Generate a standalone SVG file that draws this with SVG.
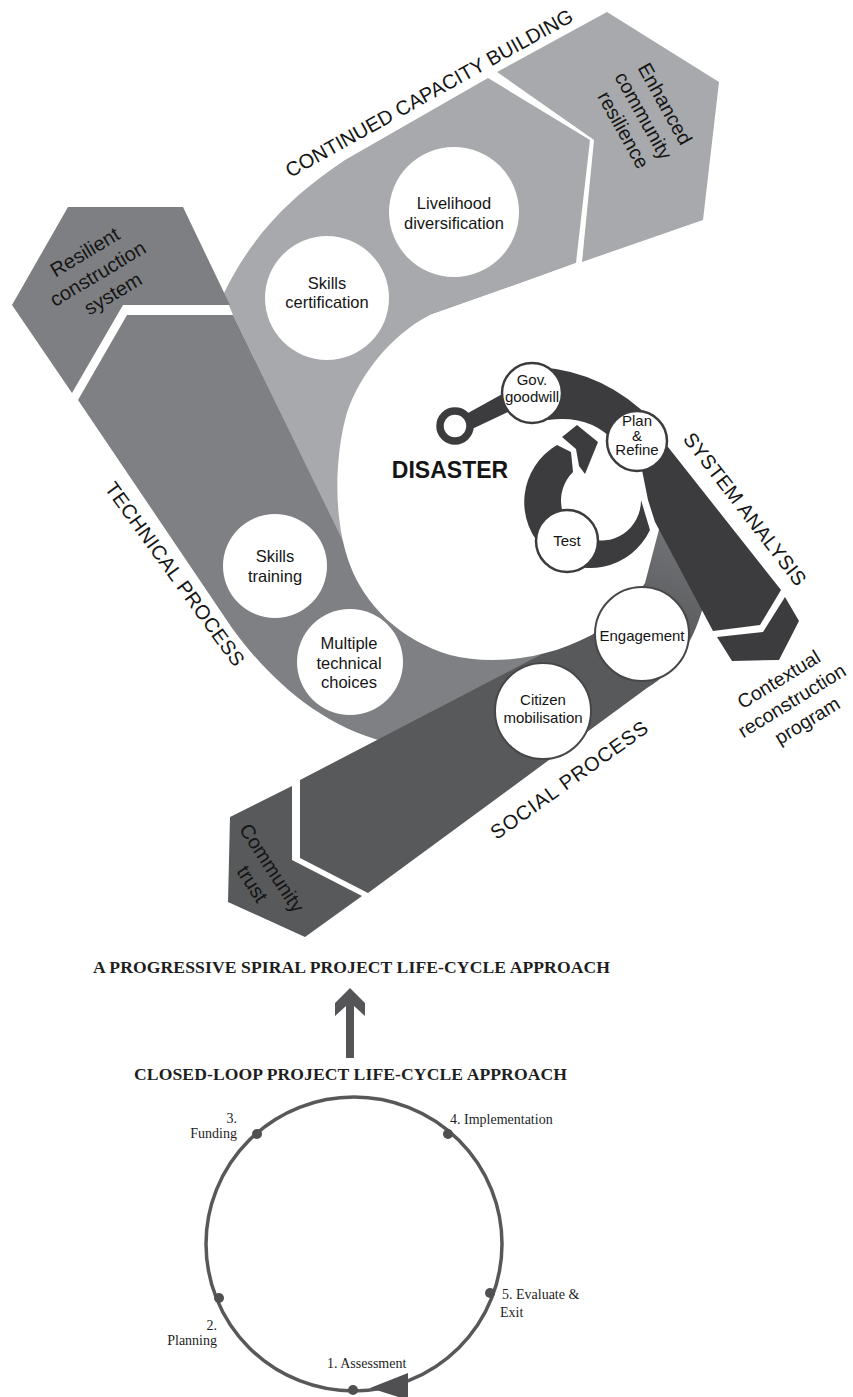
<svg xmlns="http://www.w3.org/2000/svg" width="853" height="1397" viewBox="0 0 853 1397">
  <defs>
    <style>
      .sans{font-family:"Liberation Sans",Arial,sans-serif;fill:#151515;}
      .serif{font-family:"Liberation Serif","Times New Roman",serif;fill:#1e1e1e;}
      .band{font-size:20px;}
      .lab{font-size:20px;text-anchor:middle;}
      .big{font-size:16.5px;text-anchor:middle;}
      .small{font-size:15px;text-anchor:middle;}
      .stage{font-size:14px;}
      .light{fill:#a7a9ac;}
      .mid{fill:#7f8083;}
      .dark{fill:#58595b;}
      .deep{fill:#3c3c3e;}
      .disc{fill:#fff;}
      .disc-ring{fill:#fff;stroke:#3c3c3e;stroke-width:2.5;}
      .disc-soft{fill:#fff;stroke:#474749;stroke-width:2;}
      .dot{fill:#505052;}
    </style>
    <linearGradient id="socialFade" gradientUnits="userSpaceOnUse" x1="655" y1="640" x2="690" y2="545">
      <stop offset="0" stop-color="#58595b"/>
      <stop offset="1" stop-color="#707174"/>
    </linearGradient>
  </defs>
  <rect width="853" height="1397" fill="#fff"/>

  <!-- continued capacity building band -->
  <g id="band-capacity">
    <path class="light" d="M224,293 C250,240 285,200 345,160 L488,78 L590,140 L576,263 Q530,280 430,315 L345,545 L233,315 Z"/>
    <text class="sans band" text-anchor="middle" dy="0.35em" textLength="325" transform="translate(429,93) rotate(-29)">CONTINUED CAPACITY BUILDING</text>
  </g>
  <g id="node-enhanced">
    <polygon class="light" points="497,72 607,12 719,82 703,220 582,262 594,140"/>
    <text class="sans lab" transform="translate(645,118) rotate(61)">
      <tspan x="0" y="-17.5">Enhanced</tspan>
      <tspan x="0" y="7">community</tspan>
      <tspan x="0" y="31.5">resilience</tspan>
    </text>
  </g>

  <!-- technical process band -->
  <g id="band-technical">
    <path class="mid" d="M78,400 L127,315 L233,315 L350,555 L560,650 L520,700 L385,742 C320,725 270,680 232,628 Z"/>
    <text class="sans band" text-anchor="middle" dy="0.35em" textLength="222" transform="translate(175,574) rotate(54)">TECHNICAL PROCESS</text>
  </g>
  <g id="node-resilient">
    <polygon fill="#7e7f82" points="68,207 183,207 230,305 123,305 72,393 12,305"/>
    <text class="sans lab" transform="translate(100,272) rotate(-31)">
      <tspan x="0" y="-18">Resilient</tspan>
      <tspan x="0" y="7">construction</tspan>
      <tspan x="0" y="32">system</tspan>
    </text>
  </g>

  <!-- social process band -->
  <g id="band-social">
    <path fill="url(#socialFade)" d="M300,780 L600,624 L655,515 L700,515 L705,600 C695,640 675,672 647,688 L368,893 L300,858 Z"/>
    <text class="sans band" text-anchor="middle" dy="0.35em" textLength="188" transform="translate(569,780) rotate(-35.5)">SOCIAL PROCESS</text>
  </g>
  <g id="node-community-trust">
    <polygon class="dark" points="230,817 292,786 292,860 362,896 305,937 228,902"/>
    <text class="sans lab" transform="translate(263,877) rotate(57)">
      <tspan x="0" y="-5.5">Community</tspan>
      <tspan x="0" y="19.5">trust</tspan>
    </text>
  </g>

  <!-- open centre of the spiral -->
  <path id="spiral-centre" class="disc" d="M610,262 L576,263 Q530,280 430,315 C390,335 355,380 345,420 C335,460 333,520 350,565 C365,605 400,640 450,655 C500,668 560,655 600,630 C622,613 636,597 645,583 L662,518 L760,470 L760,262 Z"/>

  <g id="node-disaster">
    <text class="sans" x="450" y="478" font-size="23" font-weight="bold" text-anchor="middle">DISASTER</text>
  </g>

  <!-- system analysis spiral -->
  <g id="band-system">
    <path class="deep" d="M620,428 L668,447 L781,590 L760,625 L713,631 L655,522 L648,500 L642,470 Z"/>
    <path class="deep" d="M557,445 A66,66 0 1 0 650,530 L641,500 A40,40 0 1 1 573,472 L571,452 Z"/>
    <polygon class="deep" points="562,437 577,425 598,442 585,474 579,466 576,449"/>
    <path class="deep" d="M540,367 Q605,372 652,420 L615,442 Q590,414 548,420 Z"/>
    <polygon class="deep" points="468,413 506,392 508,412 472,429"/>
    <circle cx="455" cy="426" r="15" fill="#fff" stroke="#3c3c3e" stroke-width="7.5"/>
    <text class="sans band" text-anchor="middle" dy="0.35em" textLength="187" transform="translate(745,509) rotate(52.3)">SYSTEM ANALYSIS</text>
  </g>
  <g id="node-contextual">
    <polygon class="deep" points="785,597 799,621 779,660 732,661 717,637 763,632"/>
    <text class="sans" font-size="19.5" text-anchor="middle" transform="translate(794,699) rotate(-31.5)">
      <tspan x="0" y="-18">Contextual</tspan>
      <tspan x="0" y="7">reconstruction</tspan>
      <tspan x="0" y="32">program</tspan>
    </text>
  </g>

  <!-- stage discs -->
  <g id="node-livelihood">
    <circle class="disc" cx="454" cy="212" r="65"/>
    <text class="sans big" x="454" y="209">Livelihood<tspan x="454" y="228.5">diversification</tspan></text>
  </g>
  <g id="node-skills-certification">
    <circle class="disc" cx="327" cy="298" r="62"/>
    <text class="sans big" x="327" y="289">Skills<tspan x="327" y="308">certification</tspan></text>
  </g>
  <g id="node-skills-training">
    <circle class="disc" cx="275" cy="566" r="52"/>
    <text class="sans big" x="275" y="562">Skills<tspan x="275" y="582">training</tspan></text>
  </g>
  <g id="node-technical-choices">
    <circle class="disc" cx="350" cy="662" r="53"/>
    <text class="sans big" x="349" y="649">Multiple<tspan x="349" y="669">technical</tspan><tspan x="349" y="688">choices</tspan></text>
  </g>
  <g id="node-citizen">
    <circle class="disc-soft" cx="543" cy="711" r="48"/>
    <text class="sans small" x="543" y="705">Citizen<tspan x="543" y="723">mobilisation</tspan></text>
  </g>
  <g id="node-engagement">
    <circle class="disc-soft" cx="642" cy="634" r="47"/>
    <text class="sans small" x="642" y="641">Engagement</text>
  </g>
  <g id="node-gov">
    <circle class="disc-ring" cx="532" cy="393" r="30"/>
    <text class="sans small" x="532" y="385">Gov.<tspan x="532" y="402">goodwill</tspan></text>
  </g>
  <g id="node-plan">
    <circle class="disc-ring" cx="637" cy="441" r="30"/>
    <text class="sans small" x="637" y="425.5">Plan<tspan x="637" y="440.5">&amp;</tspan><tspan x="637" y="455">Refine</tspan></text>
  </g>
  <g id="node-test">
    <circle class="disc-ring" cx="567" cy="541" r="31"/>
    <text class="sans small" x="567" y="546">Test</text>
  </g>

  <!-- headings -->
  <g id="title-spiral">
    <text class="serif" x="351.5" y="973" font-size="17.6" font-weight="bold" text-anchor="middle" textLength="517">A PROGRESSIVE SPIRAL PROJECT LIFE-CYCLE APPROACH</text>
  </g>
  <g id="title-closed">
    <text class="serif" x="350.5" y="1080" font-size="17.6" font-weight="bold" text-anchor="middle" textLength="433">CLOSED-LOOP PROJECT LIFE-CYCLE APPROACH</text>
  </g>

  <!-- connectors: upgrade arrow and closed loop -->
  <g id="connectors">
    <polygon fill="#555557" points="350,988 365,1003 365,1016 354,1006 354,1058 346,1058 346,1006 335,1016 335,1003"/>
    <ellipse cx="354" cy="1244" rx="148" ry="147" fill="none" stroke="#58585a" stroke-width="3.5"/>
    <polygon fill="#505052" points="370,1388 408,1373 408,1400"/>
  </g>

  <!-- loop stages -->
  <g id="stage-assessment">
    <circle class="dot" cx="353" cy="1390" r="5"/>
    <text class="serif stage" x="327" y="1368">1. Assessment</text>
  </g>
  <g id="stage-planning">
    <circle class="dot" cx="219" cy="1298" r="5"/>
    <text class="serif stage" text-anchor="end" x="217" y="1330">2.<tspan x="217" y="1345">Planning</tspan></text>
  </g>
  <g id="stage-funding">
    <circle class="dot" cx="257" cy="1134" r="5"/>
    <text class="serif stage" text-anchor="end" x="237" y="1123">3.<tspan x="237" y="1138">Funding</tspan></text>
  </g>
  <g id="stage-implementation">
    <circle class="dot" cx="448" cy="1134" r="5"/>
    <text class="serif stage" x="450" y="1124">4. Implementation</text>
  </g>
  <g id="stage-evaluate">
    <circle class="dot" cx="490" cy="1293" r="5"/>
    <text class="serif stage" x="502" y="1299">5. Evaluate &amp;<tspan x="500" y="1317">Exit</tspan></text>
  </g>
</svg>
